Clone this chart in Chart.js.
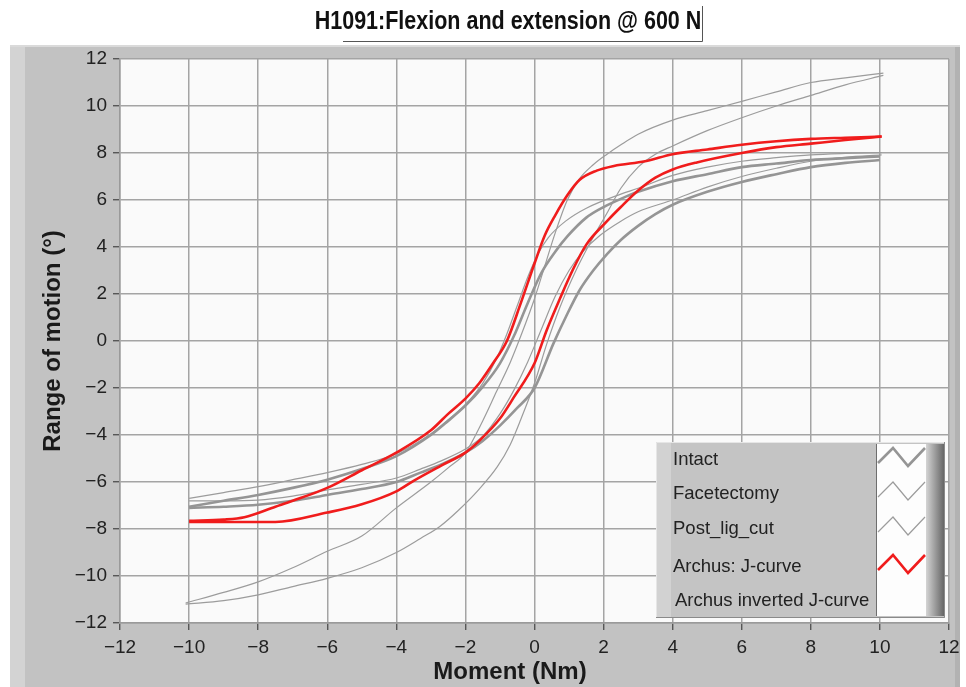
<!DOCTYPE html>
<html>
<head>
<meta charset="utf-8">
<title>H1091</title>
<script src="https://cdn.jsdelivr.net/npm/chart.js@4.4.1/dist/chart.umd.min.js"></script>
<style>
  html, body { margin: 0; padding: 0; background: #fff; }
  #wrap { position: relative; width: 966px; height: 687px; }
</style>
</head>
<body>
<div id="wrap"><canvas id="grafico" width="966" height="687"></canvas></div>
<script>
const chartTitle = "H1091:Flexion and extension @ 600 N";
const xTitle = "Moment (Nm)";
const yTitle = "Range of motion (°)";
const seriesNames = ["Intact", "Facetectomy", "Post_lig_cut", "Archus: J-curve", "Archus inverted J-curve"];
const xTicks = [-12, -10, -8, -6, -4, -2, 0, 2, 4, 6, 8, 10, 12];
const yTicks = [-12, -10, -8, -6, -4, -2, 0, 2, 4, 6, 8, 10, 12];

// each loop = upper branch + lower branch, [moment, angle]
const intactUpper = [[-10,-7.05],[-9,-6.8],[-8,-6.55],[-7,-6.25],[-6,-5.9],[-5,-5.45],[-4,-4.9],[-3,-4.0],[-2.5,-3.4],[-2,-2.75],[-1.5,-1.95],[-1,-0.95],[-0.6,0.2],[-0.2,1.6],[0.2,2.9],[0.6,3.8],[0.95,4.45],[1.5,5.25],[2,5.7],[2.5,6.05],[3,6.35],[4,6.8],[5,7.1],[6,7.4],[7,7.55],[8,7.7],[9,7.78],[10,7.85]];
const intactLower = [[-10,-7.1],[-9,-7.05],[-8,-6.97],[-7,-6.8],[-6,-6.55],[-5,-6.3],[-4,-6.0],[-3.3,-5.6],[-2.7,-5.25],[-2,-4.75],[-1.5,-4.25],[-1,-3.6],[-0.5,-2.85],[0,-2.0],[0.55,-0.1],[0.9,1.0],[1.3,2.15],[1.7,3.0],[2.1,3.7],[2.5,4.3],[3,4.9],[3.5,5.4],[4,5.8],[5,6.35],[6,6.77],[7,7.1],[8,7.4],[9,7.58],[10,7.7]];
const facetUpper = [[-10,-6.7],[-9,-6.45],[-8,-6.2],[-7,-5.9],[-6,-5.6],[-5,-5.25],[-4,-4.8],[-3,-3.95],[-2.5,-3.35],[-2,-2.7],[-1.5,-1.8],[-1.1,-0.75],[-0.8,0.3],[-0.5,1.5],[-0.2,2.7],[0.1,3.7],[0.4,4.4],[0.9,5.1],[1.5,5.65],[2.5,6.25],[3,6.5],[4,7.05],[5,7.4],[6,7.65],[7,7.8],[8,7.92],[9,7.98],[10.05,8.02]];
const facetLower = [[-10,-6.8],[-9,-6.8],[-8,-6.77],[-7,-6.6],[-6,-6.34],[-5,-6.1],[-4,-5.83],[-3.3,-5.45],[-2.7,-5.1],[-2,-4.6],[-1.5,-4.05],[-1,-3.1],[-0.6,-2.1],[-0.2,-0.9],[0.2,0.5],[0.6,1.9],[1.0,3.0],[1.4,3.8],[1.9,4.5],[2.5,5.1],[3,5.5],[4,6.0],[5,6.55],[6,7.0],[7,7.35],[8,7.65],[9,7.82],[10.05,7.92]];
const postLigUpper = [[-10.1,-11.15],[-9,-10.7],[-8,-10.25],[-7,-9.65],[-6,-8.95],[-5,-8.3],[-4,-7.1],[-3,-6.0],[-2.5,-5.4],[-2,-4.75],[-1.5,-3.4],[-1.1,-2.15],[-0.7,-0.9],[-0.4,0.2],[0,1.8],[0.3,3.2],[0.6,4.6],[0.95,6.0],[1.3,6.9],[1.7,7.5],[2.1,7.95],[2.5,8.35],[3,8.8],[4,9.4],[5,9.8],[6,10.2],[7,10.6],[8,11.0],[9,11.2],[10.1,11.4]];
const postLigLower = [[-10.1,-11.2],[-9,-11.05],[-8,-10.8],[-7,-10.45],[-6,-10.1],[-5,-9.65],[-4,-9.0],[-3.3,-8.4],[-2.75,-7.9],[-2.2,-7.2],[-1.6,-6.3],[-1.08,-5.36],[-0.7,-4.4],[-0.4,-3.35],[0,-1.8],[0.36,-0.1],[0.74,1.45],[1.2,3.0],[1.6,4.15],[2.1,5.45],[2.5,6.5],[3,7.4],[3.5,7.95],[4,8.3],[5,8.95],[6,9.5],[7,10.0],[8,10.45],[9,10.9],[10.1,11.3]];
const jCurveUpper = [[-10,-7.65],[-9,-7.6],[-8.4,-7.5],[-7.5,-7.05],[-7,-6.8],[-6,-6.25],[-5,-5.5],[-4,-4.75],[-3,-3.8],[-2.5,-3.1],[-2,-2.45],[-1.6,-1.8],[-1.2,-0.95],[-0.8,0.0],[-0.4,1.6],[0,3.3],[0.3,4.5],[0.6,5.35],[0.95,6.2],[1.3,6.85],[1.8,7.25],[2.3,7.45],[3.2,7.65],[4,7.95],[5,8.15],[6,8.35],[7,8.5],[8,8.6],[9,8.65],[10.05,8.7]];
const jCurveLower = [[-10,-7.7],[-9,-7.7],[-7.5,-7.7],[-6,-7.3],[-5,-6.95],[-4,-6.4],[-3.5,-5.95],[-2.7,-5.3],[-2,-4.75],[-1.6,-4.25],[-1,-3.3],[-0.6,-2.4],[0,-0.95],[0.35,0.45],[0.75,1.85],[1.1,3.0],[1.5,4.1],[2.1,5.1],[2.5,5.7],[3,6.4],[3.5,6.95],[4,7.3],[4.7,7.6],[6,8.0],[7,8.25],[8,8.4],[9,8.55],[10.05,8.7]];

const FONTE = '"Liberation Sans", Arial, sans-serif';
const CINZA_GROSSO = "#959595";
const CINZA_FINO = "#9c9c9c";
const VERMELHO = "#f01c1c";

const paraPontos = (arr) => arr.map(([x, y]) => ({ x, y }));
const menos = (v) => String(v).replace("-", "\u2212");

function linha(dados, cor, largura) {
  return {
    data: paraPontos(dados),
    borderColor: cor,
    borderWidth: largura,
    showLine: true,
    pointRadius: 0,
    cubicInterpolationMode: "monotone",
    fill: false,
  };
}

const moldura = {
  id: "moldura",
  beforeDraw(chart) {
    const ctx = chart.ctx;
    const a = chart.chartArea;
    ctx.save();
    ctx.fillStyle = "#ffffff";
    ctx.fillRect(0, 0, chart.width, chart.height);
    ctx.fillStyle = "#c2c2c2";
    ctx.fillRect(10, 45, 950, 642);
    ctx.fillStyle = "#d3d3d3";
    ctx.fillRect(10, 45, 15, 642);
    ctx.fillStyle = "#b2b2b2";
    ctx.fillRect(955, 45, 5, 642);
    ctx.fillStyle = "#dadada";
    ctx.fillRect(10, 45, 950, 2);
    ctx.fillStyle = "#fafafa";
    ctx.fillRect(a.left, a.top, a.right - a.left, a.bottom - a.top);

    // title with its sunken box edges
    ctx.strokeStyle = "#555";
    ctx.lineWidth = 1;
    ctx.beginPath();
    ctx.moveTo(343, 41.5);
    ctx.lineTo(702.5, 41.5);
    ctx.lineTo(702.5, 6);
    ctx.stroke();
    ctx.translate(508, 22);
    ctx.scale(0.86, 1);
    ctx.fillStyle = "#111";
    ctx.font = "bold 25px " + FONTE;
    ctx.textAlign = "center";
    ctx.textBaseline = "middle";
    ctx.fillText(chartTitle, 0, 0);
    ctx.restore();
  },
  afterDraw(chart) {
    const ctx = chart.ctx;
    ctx.save();
    // x axis title
    ctx.fillStyle = "#1a1a1a";
    ctx.font = "bold 24px " + FONTE;
    ctx.textAlign = "center";
    ctx.textBaseline = "middle";
    ctx.fillText(xTitle, 510, 672);

    // legend box
    const lx = 656, ly = 442, lw = 289, lh = 176;
    ctx.fillStyle = "#c4c4c4";
    ctx.fillRect(lx, ly, lw, lh);
    ctx.fillStyle = "#d2d2d2";
    ctx.fillRect(lx, ly, 15, lh);
    ctx.strokeStyle = "#e6e6e6";
    ctx.lineWidth = 1;
    ctx.beginPath();
    ctx.moveTo(lx + 0.5, ly + lh);
    ctx.lineTo(lx + 0.5, ly + 0.5);
    ctx.lineTo(lx + lw, ly + 0.5);
    ctx.stroke();
    ctx.strokeStyle = "#8a8a8a";
    ctx.beginPath();
    ctx.moveTo(lx + lw - 0.5, ly);
    ctx.lineTo(lx + lw - 0.5, ly + lh - 0.5);
    ctx.lineTo(lx, ly + lh - 0.5);
    ctx.stroke();

    const grad = ctx.createLinearGradient(926, 0, 944, 0);
    grad.addColorStop(0, "#d4d4d4");
    grad.addColorStop(1, "#666666");
    ctx.fillStyle = grad;
    ctx.fillRect(926, ly + 2, 18, lh - 4);
    ctx.fillStyle = "#fdfdfd";
    ctx.fillRect(876, 444, 50, 172);
    ctx.strokeStyle = "#6e6e6e";
    ctx.beginPath();
    ctx.moveTo(876.5, 444);
    ctx.lineTo(876.5, 616);
    ctx.stroke();

    const filas = [460, 494, 529, 567, 601];
    ctx.fillStyle = "#222";
    ctx.font = "18.5px " + FONTE;
    ctx.textAlign = "left";
    ctx.textBaseline = "middle";
    seriesNames.forEach((nome, i) => {
      ctx.fillText(nome, i === 4 ? 675 : 673, filas[i]);
    });

    const estilos = [
      [CINZA_GROSSO, 2.6],
      [CINZA_FINO, 1.2],
      [CINZA_FINO, 1.2],
      [VERMELHO, 2.6],
    ];
    estilos.forEach(([cor, larg], i) => {
      const yc = filas[i] - 3;
      ctx.strokeStyle = cor;
      ctx.lineWidth = larg;
      ctx.beginPath();
      ctx.moveTo(878, yc + 6);
      ctx.lineTo(893, yc - 9);
      ctx.lineTo(908, yc + 9);
      ctx.lineTo(925, yc - 9);
      ctx.stroke();
    });
    ctx.restore();
  },
};

const eixoComum = (ticksArr) => ({
  type: "linear",
  min: -12,
  max: 12,
  afterBuildTicks: (axis) => {
    axis.ticks = ticksArr.map((v) => ({ value: v }));
  },
  ticks: {
    color: "#222",
    font: { size: 19, family: FONTE },
    padding: 6,
    callback: (v) => menos(v),
  },
  grid: {
    color: "#a4a4a4",
    lineWidth: 1.5,
    tickColor: "#444",
    tickLength: 7,
    tickWidth: 1.2,
  },
  border: { display: true, color: "#9a9a9a", width: 1.5 },
});

const ctx = document.getElementById("grafico").getContext("2d");

new Chart(ctx, {
  type: "scatter",
  data: {
    datasets: [
      linha(jCurveUpper, VERMELHO, 2.6),
      linha(jCurveLower, VERMELHO, 2.6),
      linha(intactUpper, CINZA_GROSSO, 2.6),
      linha(intactLower, CINZA_GROSSO, 2.6),
      linha(facetUpper, CINZA_FINO, 1.2),
      linha(facetLower, CINZA_FINO, 1.2),
      linha(postLigUpper, CINZA_FINO, 1.2),
      linha(postLigLower, CINZA_FINO, 1.2),
    ],
  },
  options: {
    responsive: false,
    animation: false,
    layout: { padding: { left: 0, right: 17, top: 59, bottom: 0 } },
    plugins: {
      legend: { display: false },
      tooltip: { enabled: false },
    },
    scales: {
      x: {
        ...eixoComum(xTicks),
        afterFit: (scale) => { scale.height = 64; },
      },
      y: {
        ...eixoComum(yTicks),
        afterFit: (scale) => { scale.width = 120; },
        title: {
          display: true,
          text: yTitle,
          color: "#1a1a1a",
          font: { size: 24, weight: "bold", family: FONTE },
          padding: { top: 39, bottom: 0 },
        },
      },
    },
  },
  plugins: [moldura],
});
</script>
</body>
</html>
